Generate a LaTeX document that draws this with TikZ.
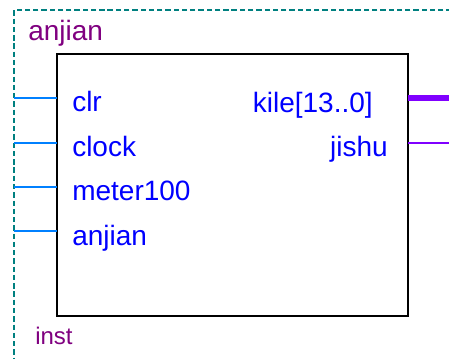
\documentclass[tikz,border=0pt]{standalone}
\usepackage{fontspec}
\setmainfont{Liberation Sans}
\definecolor{frameteal}{RGB}{0,128,128}
\definecolor{inblue}{RGB}{0,128,255}
\definecolor{outpurple}{RGB}{128,0,255}
\definecolor{portblue}{RGB}{0,0,255}
\definecolor{titlepurple}{RGB}{128,0,128}
\begin{document}
\begin{tikzpicture}[x=0.75pt,y=-0.75pt,
  frame/.style={draw=frameteal,line width=1.6pt,dash pattern=on 4pt off 2.2pt},
  blockbox/.style={draw=black,line width=2pt,fill=white},
  inwire/.style={draw=inblue,line width=1.5pt},
  outbus/.style={draw=outpurple,line width=5pt},
  outwire/.style={draw=outpurple,line width=1.5pt},
  port/.style={text=portblue,font=\fontsize{21pt}{24pt}\selectfont,inner sep=0pt},
  title/.style={text=titlepurple,font=\fontsize{21pt}{24pt}\selectfont,inner sep=0pt},
  inst/.style={text=titlepurple,font=\fontsize{18pt}{21pt}\selectfont,inner sep=0pt}]
\useasboundingbox (0,0) rectangle (449,359);
\fill[white] (0,0) rectangle (449,359);
% dashed instance frame
\draw[frame] (460,10) -- (14,10) -- (14,370);
% block
\draw[blockbox] (57,54) rectangle (408,316);
% input ports
\coordinate (i1) at (14,98);  \coordinate (p1) at (57,98);
\coordinate (i2) at (14,143); \coordinate (p2) at (57,143);
\coordinate (i3) at (14,187); \coordinate (p3) at (57,187);
\coordinate (i4) at (14,231); \coordinate (p4) at (57,231);
\draw[inwire] (i1) -- (p1);
\draw[inwire] (i2) -- (p2);
\draw[inwire] (i3) -- (p3);
\draw[inwire] (i4) -- (p4);
% output ports
\coordinate (q1) at (408,98);  \coordinate (o1) at (449,98);
\coordinate (q2) at (408,143); \coordinate (o2) at (449,143);
\draw[outbus] (q1) -- (o1);
\draw[outwire] (q2) -- (o2);
% labels
\node[title,anchor=base west] (ttl) at (28,41) {anjian};
\node[port,anchor=base west] (l1) at (72,112) {clr};
\node[port,anchor=base west] (l2) at (72,157) {clock};
\node[port,anchor=base west] (l3) at (72,201) {meter100};
\node[port,anchor=base west] (l4) at (72,246) {anjian};
\node[port,anchor=base east] (r1) at (373,113) {kile[13..0]};
\node[port,anchor=base east] (r2) at (388,157) {jishu};
\node[inst,anchor=base west] (ins) at (35,344) {inst};
\end{tikzpicture}
\end{document}
